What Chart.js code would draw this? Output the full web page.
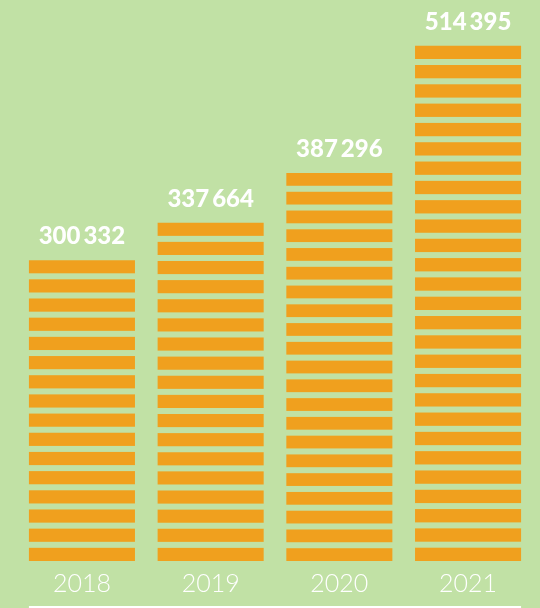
<!DOCTYPE html>
<html>
<head>
<meta charset="utf-8">
<script src="https://cdn.jsdelivr.net/npm/chart.js@4/dist/chart.umd.min.js"></script>
<style>
  html, body { margin: 0; padding: 0; background: #c1e1a5; }
  #wrap { width: 540px; height: 608px; position: relative; }
</style>
</head>
<body>
<div id="wrap"><canvas id="c"></canvas></div>
<script>
const years = ['2018', '2019', '2020', '2021'];
const values = [300332, 337664, 387296, 514395];
const valueLabels = ['300\u2009332', '337\u2009664', '387\u2009296', '514\u2009395'];

const BG = '#c1e1a5';
const ORANGE = '#f0a01e';

const stripes = {
  id: 'stripes',
  beforeDraw(chart) {
    const c = chart.ctx;
    c.save();
    c.fillStyle = BG;
    c.fillRect(0, 0, chart.width, chart.height);
    c.restore();
  },
  afterDatasetsDraw(chart) {
    const c = chart.ctx;
    const meta = chart.getDatasetMeta(0);
    const gap = 6, target = 19.2;
    c.save();
    c.fillStyle = BG;
    meta.data.forEach((bar) => {
      const top = bar.y, base = bar.base;
      const left = bar.x - bar.width / 2;
      const h = base - top;
      const n = Math.max(1, Math.round((h + gap) / target));
      const period = (h + gap) / n;
      for (let j = 1; j < n; j++) {
        const y = top + j * period - gap;
        c.fillRect(left - 1, y, bar.width + 2, gap);
      }
    });
    // value labels
    c.fillStyle = '#ffffff';
    c.font = '900 24px Lato, "Open Sans", sans-serif';
    c.textAlign = 'center';
    c.textBaseline = 'alphabetic';
    meta.data.forEach((bar, i) => {
      c.fillText(valueLabels[i], bar.x, bar.y - 16);
    });
    // bottom white line
    const first = meta.data[0], last = meta.data[meta.data.length - 1];
    c.fillRect(first.x - first.width / 2, chart.height - 2, (last.x + last.width / 2) - (first.x - first.width / 2), 2);
    c.restore();
  }
};

new Chart(document.getElementById('c'), {
  type: 'bar',
  data: {
    labels: years,
    datasets: [{
      data: values,
      backgroundColor: ORANGE,
      borderWidth: 0,
      categoryPercentage: 1,
      barPercentage: 0.824
    }]
  },
  options: {
    responsive: true,
    maintainAspectRatio: false,
    animation: false,
    layout: { padding: { left: 17.6, right: 7.6, top: 0, bottom: 0 } },
    plugins: { legend: { display: false }, tooltip: { enabled: false } },
    scales: {
      x: {
        grid: { display: false },
        border: { display: false },
        ticks: {
          color: '#ffffff',
          font: { family: 'Lato, "Open Sans", sans-serif', size: 25, weight: '300' },
          padding: 0
        },
        afterFit(scale) { scale.height = 47; }
      },
      y: {
        display: false,
        min: 0,
        max: 560000
      }
    }
  },
  plugins: [stripes]
});
</script>
</body>
</html>
